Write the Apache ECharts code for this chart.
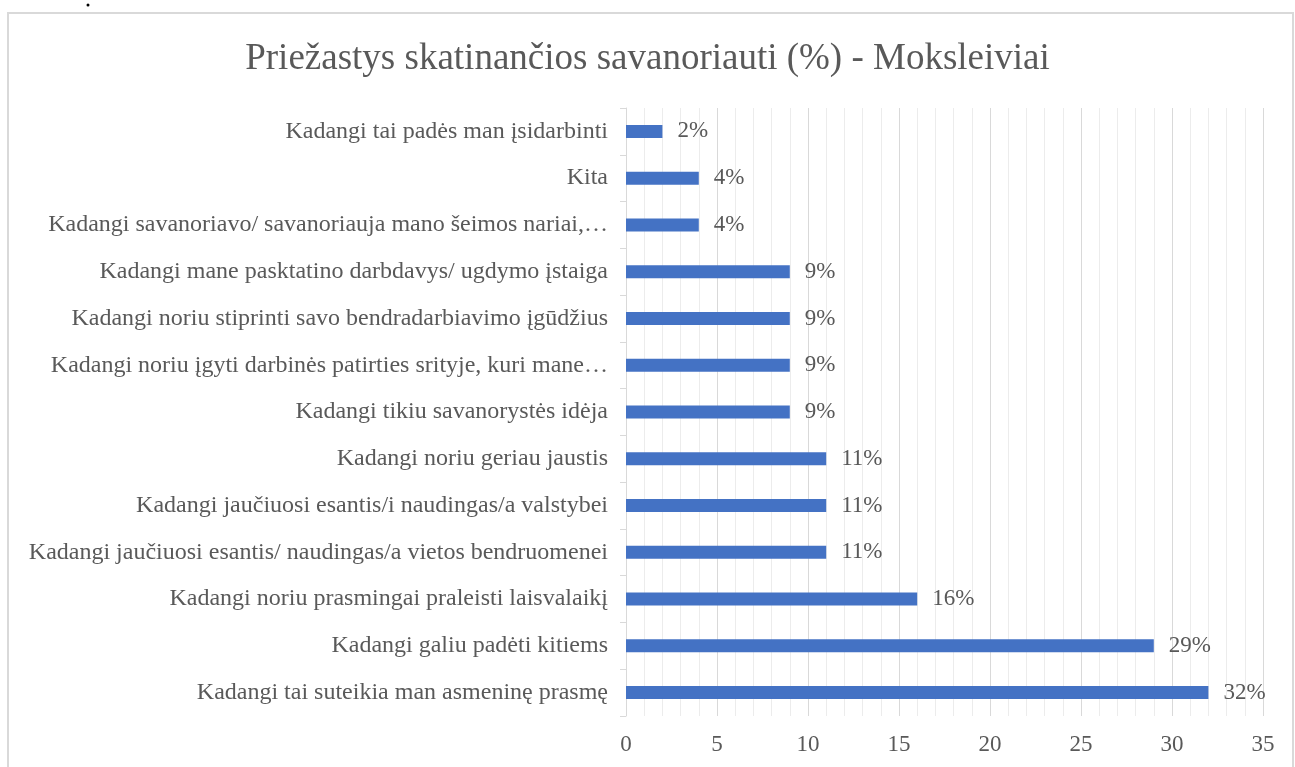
<!DOCTYPE html>
<html>
<head>
<meta charset="utf-8">
<style>
  html, body { margin: 0; padding: 0; background: #fff; }
  #chart { width: 1295px; height: 767px; }
</style>
<script src="https://cdn.jsdelivr.net/npm/echarts@6/dist/echarts.min.js"></script>
</head>
<body>
<div id="chart"></div>
<script>
// categories listed bottom -> top (ECharts category y axis starts at the bottom)
const categories = [
  "Kadangi tai suteikia man asmeninę prasmę",
  "Kadangi galiu padėti kitiems",
  "Kadangi noriu prasmingai praleisti laisvalaikį",
  "Kadangi jaučiuosi esantis/ naudingas/a vietos bendruomenei",
  "Kadangi jaučiuosi esantis/i naudingas/a valstybei",
  "Kadangi noriu geriau jaustis",
  "Kadangi tikiu savanorystės idėja",
  "Kadangi noriu įgyti darbinės patirties srityje, kuri mane…",
  "Kadangi noriu stiprinti savo bendradarbiavimo įgūdžius",
  "Kadangi mane pasktatino darbdavys/ ugdymo įstaiga",
  "Kadangi savanoriavo/ savanoriauja mano šeimos nariai,…",
  "Kita",
  "Kadangi tai padės man įsidarbinti"
];
const values = [32, 29, 16, 11, 11, 11, 9, 9, 9, 9, 4, 4, 2];
const xTicks = [0, 35, 5];

const font = '"Liberation Serif", "Times New Roman", serif';
const textColor = '#595959';

var chart = echarts.init(document.getElementById('chart'));
chart.setOption({
  animation: false,
  title: {
    text: 'Priežastys skatinančios savanoriauti (%) - Moksleiviai',
    left: 'center',
    top: 36,
    textStyle: { fontFamily: font, fontSize: 37, fontWeight: 'normal', color: textColor }
  },
  grid: { left: 626, right: 32, top: 108, bottom: 51 },
  xAxis: {
    type: 'value',
    min: xTicks[0],
    max: xTicks[1],
    interval: xTicks[2],
    axisLine: { show: false },
    axisTick: { show: false },
    axisLabel: { fontFamily: font, fontSize: 23, color: textColor, margin: 17 },
    splitLine: { show: true, lineStyle: { color: '#d9d9d9', width: 1 } },
    minorTick: { show: false, splitNumber: 5 },
    minorSplitLine: { show: true, lineStyle: { color: '#ececec', width: 1 } }
  },
  yAxis: {
    type: 'category',
    data: categories,
    axisLine: { show: true, lineStyle: { color: '#d9d9d9', width: 1 } },
    axisTick: { show: true, length: 6, lineStyle: { color: '#d9d9d9' } },
    axisLabel: {
      fontFamily: font, fontSize: 24, color: textColor, margin: 18,
      width: 600, overflow: 'truncate', ellipsis: '…'
    },
    splitLine: { show: false }
  },
  series: [{
    type: 'bar',
    data: values,
    barWidth: 13,
    itemStyle: { color: '#4472c4' },
    label: {
      show: true,
      position: 'right',
      distance: 15,
      formatter: '{c}%',
      fontFamily: font,
      fontSize: 23,
      color: textColor
    }
  }],
  graphic: [
    {
      type: 'rect',
      shape: { x: 8, y: 13, width: 1285, height: 770 },
      style: { fill: 'none', stroke: '#d9d9d9', lineWidth: 2 },
      silent: true
    },
    {
      type: 'circle',
      shape: { cx: 88, cy: 5, r: 1.5 },
      style: { fill: '#000' },
      silent: true
    }
  ]
});
</script>
</body>
</html>
